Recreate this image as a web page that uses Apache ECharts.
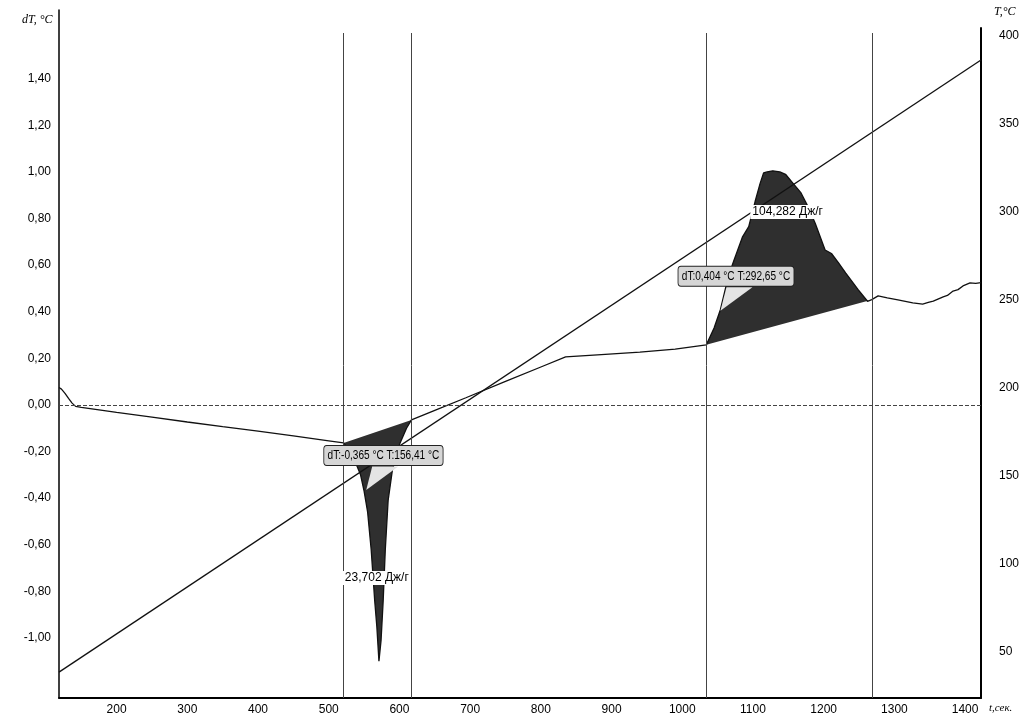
<!DOCTYPE html>
<html>
<head>
<meta charset="utf-8">
<script src="https://cdn.jsdelivr.net/npm/echarts@6/dist/echarts.min.js"></script>
<style>
  html, body { margin: 0; padding: 0; background: #fff; }
  #main { width: 1030px; height: 722px; }
</style>
</head>
<body>
<div id="main"></div>
<script>
// axis ticks
const timeTicks = [200, 300, 400, 500, 600, 700, 800, 900, 1000, 1100, 1200, 1300, 1400];
const dtTicks = [-1.0, -0.8, -0.6, -0.4, -0.2, 0, 0.2, 0.4, 0.6, 0.8, 1.0, 1.2, 1.4];
const tempTicks = [50, 100, 150, 200, 250, 300, 350, 400];

// dT curve
const dtTime = [118.5, 122, 127, 132, 137, 142, 150, 200, 250, 300, 350, 400, 450, 500, 521,
  530, 537, 545, 550, 555, 560, 565, 568, 571, 574, 577, 580, 584, 590, 600, 610, 617,
  650, 694, 750, 800, 835, 880, 940, 990, 1034,
  1045, 1054, 1065, 1073, 1085, 1094, 1103, 1110, 1115, 1120, 1128, 1138, 1146, 1157, 1168,
  1178, 1188, 1202, 1211, 1221, 1231, 1249, 1262, 1268,
  1277, 1290, 1305, 1326, 1340, 1348, 1355, 1369, 1375, 1383, 1390, 1397, 1407, 1415, 1422.5];
const dtValue = [0.075, 0.068, 0.05, 0.028, 0.008, -0.006, -0.01, -0.032, -0.052, -0.073, -0.093, -0.112, -0.133, -0.154, -0.163,
  -0.2, -0.24, -0.3, -0.37, -0.46, -0.62, -0.84, -0.95, -1.1, -1.01, -0.84, -0.62, -0.41, -0.28, -0.17, -0.1, -0.064,
  -0.023, 0.031, 0.101, 0.163, 0.206, 0.215, 0.227, 0.24, 0.258,
  0.33, 0.41, 0.55, 0.62, 0.72, 0.765, 0.873, 0.95, 0.996, 1.0, 1.005, 1.0, 0.99, 0.95, 0.91,
  0.85, 0.78, 0.665, 0.65, 0.61, 0.567, 0.494, 0.445, 0.452,
  0.468, 0.46, 0.451, 0.438, 0.433, 0.44, 0.446, 0.464, 0.47, 0.489, 0.495, 0.511, 0.524, 0.522, 0.525];

// T line (temperature programme)
const tempTime = [118.5, 1422.5];
const tempValue = [38.6, 386.3];

// peak limits (vertical lines)
const peakBounds = [[521, 617], [1034, 1268]];
const markerTimes = [521, 617, 1034, 1268];

// annotations
const calloutText = ['dT:-0,365 °C T:156,41 °C', 'dT:0,404 °C T:292,65 °C'];
const calloutAt = [[553, -0.365], [1054, 0.404]];
const energyText = ['23,702 Дж/г', '104,282 Дж/г'];
const energyAt = [[568, -0.742], [1149, 0.828]];

const FONT = '"Liberation Sans Narrow", "Liberation Sans", Arial, sans-serif';
const SERIF = '"Liberation Serif", "DejaVu Serif", serif';

const fmt = v => v.toFixed(2).replace('.', ',').replace('-0,00', '0,00');

var chart = echarts.init(document.getElementById('main'));

const xBase = {
  type: 'value', min: 118.5, max: 1422.5,
  splitLine: { show: false }
};

var option = {
  animation: false,
  grid: [
    { left: 59, right: 49, top: 10, bottom: 24 },
    { left: 59, right: 49, top: 28, bottom: 24 },
    { left: 59, right: 49, top: 33, bottom: 24 }
  ],
  xAxis: [
    Object.assign({}, xBase, {
      gridIndex: 0,
      axisLine: { onZero: false, lineStyle: { color: '#000', width: 2 } },
      axisTick: { show: false },
      axisLabel: {
        customValues: timeTicks, margin: 6, formatter: v => String(v),
        color: '#000', fontSize: 12, fontFamily: FONT
      }
    }),
    Object.assign({}, xBase, { gridIndex: 1, show: false }),
    Object.assign({}, xBase, { gridIndex: 2, show: false })
  ],
  yAxis: [
    {
      type: 'value', gridIndex: 0, min: -1.2575, max: 1.695,
      splitLine: { show: false },
      axisLine: { show: true, onZero: false, lineStyle: { color: '#000', width: 1.5 } },
      axisTick: { show: false },
      axisLabel: {
        customValues: dtTicks, margin: 8, formatter: fmt,
        color: '#000', fontSize: 12, fontFamily: FONT
      }
    },
    {
      type: 'value', gridIndex: 1, position: 'right', min: 23.9, max: 404.5,
      splitLine: { show: false },
      axisLine: { show: true, onZero: false, lineStyle: { color: '#000', width: 2 } },
      axisTick: { show: false },
      axisLabel: {
        customValues: tempTicks, margin: 18,
        color: '#000', fontSize: 12, fontFamily: FONT
      }
    },
    { type: 'value', gridIndex: 2, min: 0, max: 1, show: false }
  ],
  series: [
    {
      // filled peak areas between curve and baseline
      type: 'custom',
      xAxisIndex: 0, yAxisIndex: 0,
      data: peakBounds.map((b, i) => i),
      z: 1,
      silent: true,
      renderItem: function (params, api) {
        const b = peakBounds[params.dataIndex];
        const pts = [];
        dtTime.forEach((t, i) => {
          if (t >= b[0] && t <= b[1]) pts.push(api.coord([t, dtValue[i]]));
        });
        return { type: 'polygon', shape: { points: pts }, style: { fill: '#2f2f2f' } };
      }
    },
    {
      name: 'dT',
      type: 'line',
      xAxisIndex: 0, yAxisIndex: 0,
      data: dtTime.map((t, i) => [t, dtValue[i]]),
      showSymbol: false,
      z: 3,
      lineStyle: { color: '#111', width: 1.3 },
      markLine: {
        silent: true, symbol: 'none', label: { show: false },
        lineStyle: { color: '#444', width: 1, type: 'dashed' },
        data: [{ yAxis: 0 }]
      }
    },
    {
      name: 'T',
      type: 'line',
      xAxisIndex: 1, yAxisIndex: 1,
      data: tempTime.map((t, i) => [t, tempValue[i]]),
      showSymbol: false,
      z: 3,
      lineStyle: { color: '#111', width: 1.3 }
    },
    {
      type: 'line',
      xAxisIndex: 2, yAxisIndex: 2,
      data: [],
      markLine: {
        silent: true, symbol: 'none', label: { show: false },
        lineStyle: { color: '#444', width: 1, type: 'solid' },
        data: markerTimes.map(t => ({ xAxis: t }))
      }
    }
  ]
};
chart.setOption(option);

// annotations placed through the chart's own scale
const graphics = [
  { type: 'text', left: 22, top: 14, style: { text: 'dT, °C', fill: '#000', font: 'italic 12px ' + SERIF } },
  { type: 'text', left: 994, top: 6, style: { text: 'T,°C', fill: '#000', font: 'italic 12px ' + SERIF } },
  { type: 'text', left: 989, top: 703, style: { text: 't,сек.', fill: '#000', font: 'italic 11px ' + SERIF } }
];

calloutAt.forEach((c, i) => {
  const p = chart.convertToPixel({ gridIndex: 0 }, c);
  graphics.push({
    type: 'group', x: p[0], y: p[1],
    children: [
      { type: 'text', x: -42, y: -44, scaleX: 0.84, z: 100,
        style: {
          text: calloutText[i], fill: '#000', font: '12px ' + FONT,
          verticalAlign: 'top', backgroundColor: '#d6d6d6',
          borderColor: '#222', borderWidth: 1, borderRadius: 3, padding: [4, 4, 3, 4]
        } },
      { type: 'polygon', z: 101, shape: { points: [[0, 0], [6, -23.5], [32, -23.5]] },
        style: { fill: '#e4e4e4' } }
    ]
  });
});

energyAt.forEach((c, i) => {
  const p = chart.convertToPixel({ gridIndex: 0 }, c);
  graphics.push({
    type: 'text', x: p[0], y: p[1], z: 90,
    style: {
      text: energyText[i], fill: '#000', font: '12px ' + FONT,
      align: 'center', verticalAlign: 'middle',
      backgroundColor: '#fff', padding: [1, 2]
    }
  });
});

chart.setOption({ graphic: graphics });
</script>
</body>
</html>
